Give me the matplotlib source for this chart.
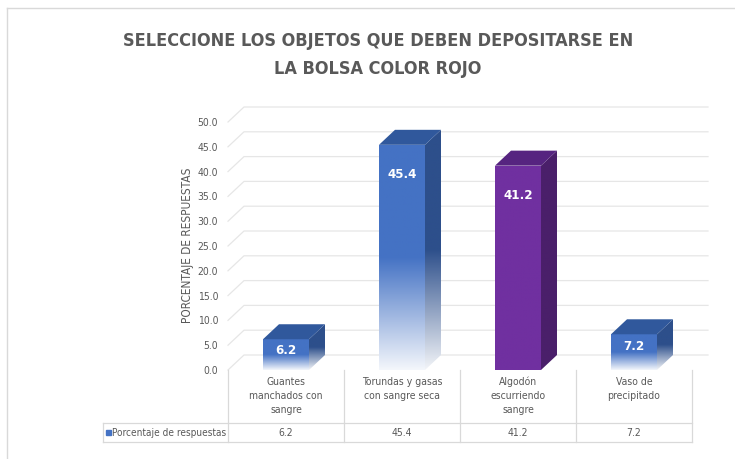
import numpy as np
import matplotlib
matplotlib.use("Agg")
import matplotlib.pyplot as plt
from matplotlib.patches import Polygon, Rectangle
from matplotlib.lines import Line2D
from matplotlib.colors import to_rgb
from matplotlib.transforms import blended_transform_factory

plt.rcParams['font.family'] = ['DejaVu Sans']
plt.rcParams['font.stretch'] = 'condensed'

# data
title = "SELECCIONE LOS OBJETOS QUE DEBEN DEPOSITARSE EN\nLA BOLSA COLOR ROJO"
categories = ["Guantes\nmanchados con\nsangre",
              "Torundas y gasas\ncon sangre seca",
              "Algodón\nescurriendo\nsangre",
              "Vaso de\nprecipitado"]
series_name = "Porcentaje de respuestas"
values = [6.2, 45.4, 41.2, 7.2]
y_label = "PORCENTAJE DE RESPUESTAS"
y_ticks = np.arange(0, 50.1, 5)

# colours: front, side, top, fade to white at the base
front_colors = ['#4472C4', '#4472C4', '#7030A0', '#4472C4']
side_colors = ['#2D4F8B', '#2D4F8B', '#4A1F6A', '#2D4F8B']
top_colors = ['#30589C', '#30589C', '#562480', '#30589C']
fades = [True, True, False, True]

GREY = '#595959'
LINE = '#D9D9D9'
SMALL = 7.5

W, H = 735, 459
fig = plt.figure(figsize=(W / 100, H / 100), dpi=100)


def fx(px):
    return px / W


def fy(py):
    return 1 - py / H


# plot area in pixels
ax_l, ax_r, ax_t, ax_b = 228, 692, 122, 370
ax = fig.add_axes([fx(ax_l), fy(ax_b), fx(ax_r) - fx(ax_l), fy(ax_t) - fy(ax_b)])
ax.set_facecolor('none')
for s in ax.spines.values():
    s.set_visible(False)

xmin, xmax, ymin, ymax = -0.5, 3.5, 0, 50
depth_px = 16
dx = depth_px * (xmax - xmin) / (ax_r - ax_l)
dy = 15 * (ymax - ymin) / (ax_b - ax_t)
bar_w = 46 * (xmax - xmin) / (ax_r - ax_l)

# back wall gridlines with the short diagonal on the side wall
for v in y_ticks:
    ax.plot([xmin, xmin + dx, xmax + dx], [v, v + dy, v + dy],
            color='#E6E6E6', lw=0.9, clip_on=False, zorder=0.5)


def shade_face(poly, color, y0, y1, fade):
    patch = Polygon(poly, closed=True, facecolor='none', edgecolor='none')
    ax.add_patch(patch)
    xs = [p[0] for p in poly]
    t = np.linspace(0, 1, 256)[:, None]
    if fade:
        mix = 0.06 + 0.94 * np.clip(t / 0.5, 0, 1)
    else:
        mix = np.ones_like(t)
    rgb = np.array(to_rgb(color))[None, :]
    img = (1 - mix) * 1.0 + mix * rgb
    im = ax.imshow(img[:, None, :], extent=(min(xs), max(xs), y0, y1),
                   origin='lower', aspect='auto', interpolation='bilinear',
                   zorder=2)
    im.set_clip_path(patch)


for i, v in enumerate(values):
    x0, x1 = i - bar_w / 2, i + bar_w / 2
    front = [(x0, 0), (x1, 0), (x1, v), (x0, v)]
    side = [(x1, 0), (x1 + dx, dy), (x1 + dx, v + dy), (x1, v)]
    top = [(x0, v), (x0 + dx, v + dy), (x1 + dx, v + dy), (x1, v)]
    shade_face(side, side_colors[i], 0, v + dy, fades[i])
    shade_face(front, front_colors[i], 0, v, fades[i])
    ax.add_patch(Polygon(top, closed=True, facecolor=top_colors[i],
                         edgecolor='none', zorder=3))

    h_px = v * (ax_b - ax_t) / (ymax - ymin)
    off = min(0.35 * h_px, 30)
    ax.annotate(f"{v:.1f}", xy=(i, v), xytext=(0, -off),
                textcoords='offset pixels', ha='center', va='center',
                color='white', fontweight='bold', fontsize=9.5, zorder=5)

ax.set_xlim(xmin, xmax)
ax.set_ylim(ymin, ymax)

ax.set_yticks(y_ticks)
ax.set_yticklabels([f"{v:.1f}" for v in y_ticks])
ax.tick_params(axis='y', length=0, pad=7, labelsize=SMALL, labelcolor=GREY)
ax.set_xticks(range(len(categories)))
ax.set_xticklabels(categories, linespacing=1.5)
ax.tick_params(axis='x', length=0, pad=5, labelsize=SMALL, labelcolor=GREY)

fig.text(fx(188), fy(245), y_label, rotation=90, ha='center', va='center',
         fontsize=8.5, color=GREY)

fig.text(fx(378), fy(55), title, ha='center', va='center', fontsize=13,
         fontweight='bold', color=GREY, linespacing=1.65)

# data table under the plot
row_top, row_bot, tbl_left = 423, 442, 103
bt = blended_transform_factory(ax.transData, fig.transFigure)
for k in range(len(categories) + 1):
    xk = xmin + k
    fig.add_artist(Line2D([xk, xk], [fy(ax_b), fy(row_bot)], transform=bt,
                          color=LINE, lw=0.9))
for yy in (row_top, row_bot):
    fig.add_artist(Line2D([fx(tbl_left), fx(ax_r)], [fy(yy), fy(yy)],
                          color=LINE, lw=0.9))
fig.add_artist(Line2D([fx(tbl_left), fx(tbl_left)], [fy(row_top), fy(row_bot)],
                      color=LINE, lw=0.9))
fig.add_artist(Rectangle((fx(106), fy(435)), 5 / W, 5 / H,
                         transform=fig.transFigure, color='#4472C4'))
fig.text(fx(112.5), fy(432.5), series_name, ha='left', va='center',
         fontsize=7.2, color=GREY)
for i, v in enumerate(values):
    fig.text(i, fy(432.5), f"{v:.1f}", transform=bt, ha='center',
             va='center', fontsize=SMALL, color=GREY)

# chart frame
fig.add_artist(Line2D([fx(7), 1], [fy(8), fy(8)], color=LINE, lw=1))
fig.add_artist(Line2D([fx(7), fx(7)], [fy(8), 0], color=LINE, lw=1))

fig.savefig('out.png', dpi=100)
